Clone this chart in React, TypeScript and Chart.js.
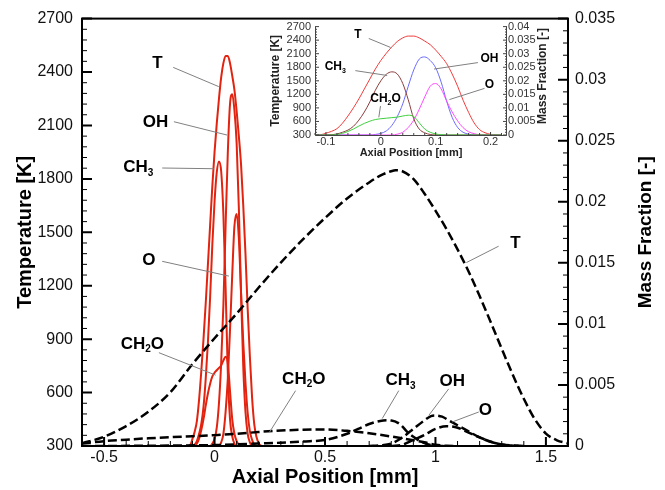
import React, { useEffect, useRef } from 'react';
import { Chart, registerables } from 'chart.js';

Chart.register(...registerables);

const FONT = '"Liberation Sans", Arial, Helvetica, sans-serif';

// ---------- flame-zone profiles (red curves, also the inset) ----------
const flameX = [
  -0.12, -0.11, -0.1, -0.09, -0.08, -0.07, -0.06, -0.05, -0.04, -0.03, -0.02, -0.01,
  0, 0.01, 0.02, 0.03, 0.04, 0.05, 0.06, 0.07, 0.08, 0.09, 0.1, 0.11, 0.12, 0.13,
  0.14, 0.15, 0.16, 0.17, 0.18, 0.19, 0.2, 0.21, 0.22,
];
const flameT = [
  300, 305, 340, 380, 440, 560, 720, 900, 1100, 1320, 1540, 1760,
  1950, 2110, 2250, 2370, 2450, 2490, 2490, 2450, 2380, 2300, 2180, 2040, 1880, 1650,
  1380, 1070, 800, 570, 420, 350, 315, 302, 300,
];
const flameCH3 = [
  0, 0, 0, 0.0001, 0.0004, 0.001, 0.0018, 0.0032, 0.0055, 0.0085, 0.0122, 0.0165,
  0.02, 0.0224, 0.0233, 0.0225, 0.019, 0.013, 0.006, 0.0022, 0.0008, 0.0002, 0, 0, 0, 0,
  0, 0, 0, 0, 0, 0, 0, 0, 0,
];
const flameOH = [
  0, 0, 0, 0, 0, 0, 0, 0, 0, 0, 0, 0.0002,
  0.0006, 0.0015, 0.0035, 0.0068, 0.0115, 0.018, 0.024, 0.028, 0.0288, 0.0275, 0.0248, 0.0195, 0.0125, 0.0065,
  0.0028, 0.001, 0.0003, 0, 0, 0, 0, 0, 0,
];
const flameO = [
  0, 0, 0, 0, 0, 0, 0, 0, 0, 0, 0, 0,
  0, 0, 0, 0.0003, 0.001, 0.0028, 0.0055, 0.0095, 0.014, 0.018, 0.019, 0.017, 0.0125, 0.0085,
  0.0052, 0.0027, 0.0012, 0.0005, 0.0001, 0, 0, 0, 0,
];
const flameCH2O = [
  0, 0, 0, 0, 0.0002, 0.0006, 0.0013, 0.0022, 0.0033, 0.0043, 0.0051, 0.0057,
  0.006, 0.0062, 0.0064, 0.0066, 0.007, 0.0073, 0.0068, 0.0045, 0.0022, 0.001, 0.0004, 0.0001, 0, 0,
  0, 0, 0, 0, 0, 0, 0, 0, 0,
];

// ---------- broad profiles (black dashed curves) ----------
const tX = [-0.6, -0.5, -0.4, -0.3, -0.2, -0.1, 0, 0.1, 0.2, 0.3, 0.4, 0.5, 0.6, 0.7, 0.75, 0.8, 0.82, 0.85, 0.9, 0.95, 1.0, 1.05, 1.1, 1.15, 1.2, 1.25, 1.3, 1.35, 1.4, 1.45, 1.5, 1.55, 1.6];
const tVal = [315, 352, 412, 492, 602, 760, 905, 1043, 1190, 1330, 1460, 1580, 1690, 1780, 1818, 1843, 1848, 1843, 1800, 1718, 1622, 1518, 1404, 1280, 1142, 996, 846, 700, 565, 450, 370, 332, 315];

const ch2oX = [-0.6, -0.5, -0.4, -0.3, -0.2, -0.1, 0, 0.1, 0.2, 0.3, 0.4, 0.5, 0.6, 0.7, 0.8, 0.9, 0.95, 1.0, 1.05, 1.1];
const ch2oVal = [0.0002, 0.0004, 0.00052, 0.00063, 0.00072, 0.0008, 0.00089, 0.001, 0.00115, 0.00127, 0.00133, 0.00135, 0.00124, 0.00104, 0.00078, 0.00047, 0.0003, 0.0001, 0.00002, 0];

const ch3X = [-0.6, -0.3, 0, 0.1, 0.2, 0.3, 0.4, 0.5, 0.6, 0.65, 0.7, 0.75, 0.78, 0.8, 0.83, 0.85, 0.87, 0.9, 0.93, 0.96, 1.0, 1.05];
const ch3Val = [0, 0.00002, 0.00008, 0.00013, 0.0002, 0.00027, 0.00037, 0.0005, 0.001, 0.0014, 0.0018, 0.00205, 0.0021, 0.00208, 0.0019, 0.0016, 0.0012, 0.00075, 0.0004, 0.00016, 0.00003, 0];

const ohX = [0.7, 0.75, 0.8, 0.85, 0.9, 0.95, 0.98, 1.0, 1.03, 1.06, 1.1, 1.15, 1.2, 1.25, 1.3, 1.35, 1.4];
const ohVal = [0, 0.00005, 0.0002, 0.0007, 0.0014, 0.0021, 0.00245, 0.0025, 0.0024, 0.0021, 0.0017, 0.0012, 0.0007, 0.00035, 0.00012, 0.00003, 0];

const oX = [0.8, 0.85, 0.9, 0.95, 1.0, 1.05, 1.1, 1.15, 1.2, 1.25, 1.3, 1.35, 1.4];
const oVal = [0, 0.0001, 0.0005, 0.0009, 0.0014, 0.00162, 0.0015, 0.0011, 0.0007, 0.00035, 0.00013, 0.00004, 0];

// ---------- tick values ----------
const xTicks = [-0.5, 0, 0.5, 1, 1.5];
const tTicks = [300, 600, 900, 1200, 1500, 1800, 2100, 2400, 2700];
const mfTicks = [0, 0.005, 0.01, 0.015, 0.02, 0.025, 0.03, 0.035];
const insetXTicks = [-0.1, 0, 0.1, 0.2];
const insetMfTicks = [0, 0.005, 0.01, 0.015, 0.02, 0.025, 0.03, 0.035, 0.04];

type Note = { text: string; x: number; y: number; from: [number, number]; to: [number, number] };

const mainNotes: Note[] = [
  { text: 'T', x: -0.259, y: 2454, from: [-0.187, 2426], to: [0.019, 2318] },
  { text: 'OH', x: -0.267, y: 2126, from: [-0.184, 2121], to: [0.057, 2046] },
  { text: 'CH_3', x: -0.345, y: 1871, from: [-0.237, 1861], to: [-0.003, 1857] },
  { text: 'O', x: -0.297, y: 1348, from: [-0.237, 1337], to: [0.065, 1254] },
  { text: 'CH_2O', x: -0.327, y: 879, from: [-0.252, 824], to: [0.005, 698] },
  { text: 'T', x: 1.362, y: 1444, from: [1.286, 1422], to: [1.14, 1330] },
  { text: 'CH_2O', x: 0.404, y: 685, from: [0.367, 611], to: [0.249, 378] },
  { text: 'CH_3', x: 0.842, y: 676, from: [0.834, 611], to: [0.759, 454] },
  { text: 'OH', x: 1.076, y: 671, from: [1.06, 621], to: [0.97, 472] },
  { text: 'O', x: 1.226, y: 509, from: [1.196, 491], to: [1.076, 435] },
];

const insetNotes: Note[] = [
  { text: 'T', x: -0.0416, y: 2544, from: [-0.022, 2437], to: [0.0178, 2238] },
  { text: 'CH_3', x: -0.083, y: 1832, from: [-0.0464, 1725], to: [0.0116, 1618] },
  { text: 'CH_2O', x: 0.0086, y: 1119, from: [-0.0006, 941], to: [-0.0037, 691] },
  { text: 'OH', x: 0.198, y: 2010, from: [0.177, 1903], to: [0.097, 1760] },
  { text: 'O', x: 0.198, y: 1439, from: [0.189, 1332], to: [0.125, 1084] },
];

const pts = (xs: number[], ys: number[]) => xs.map((x, i) => ({ x, y: ys[i] }));
const fmt = (v: number) => String(Number(v.toFixed(4)));

function drawRich(ctx: CanvasRenderingContext2D, text: string, cx: number, cy: number, size: number) {
  const parts: { t: string; sub: boolean }[] = [];
  const re = /_(\d)/g;
  let last = 0;
  let m: RegExpExecArray | null;
  while ((m = re.exec(text))) {
    if (m.index > last) parts.push({ t: text.slice(last, m.index), sub: false });
    parts.push({ t: m[1], sub: true });
    last = m.index + m[0].length;
  }
  if (last < text.length) parts.push({ t: text.slice(last), sub: false });
  const fMain = `bold ${size}px ${FONT}`;
  const fSub = `bold ${Math.round(size * 0.6)}px ${FONT}`;
  let total = 0;
  for (const p of parts) {
    ctx.font = p.sub ? fSub : fMain;
    total += ctx.measureText(p.t).width;
  }
  let x = cx - total / 2;
  const base = cy + size * 0.358;
  ctx.textAlign = 'left';
  ctx.textBaseline = 'alphabetic';
  for (const p of parts) {
    ctx.font = p.sub ? fSub : fMain;
    ctx.fillText(p.t, x, p.sub ? base + size * 0.2 : base);
    x += ctx.measureText(p.t).width;
  }
}

function minorValues(min: number, max: number, step: number, majors: number[]) {
  const out: number[] = [];
  for (let k = Math.ceil(min / step - 1e-9); k * step <= max + 1e-9; k++) {
    const v = k * step;
    if (!majors.some((mj) => Math.abs(mj - v) < step * 0.01)) out.push(v);
  }
  return out;
}

function drawTicks(chart: any, scaleId: string, side: string, values: number[], len: number, width: number) {
  const { ctx, chartArea: a } = chart;
  const s = chart.scales[scaleId];
  ctx.beginPath();
  ctx.lineWidth = width;
  for (const v of values) {
    const p = s.getPixelForValue(v);
    if (side === 'bottom') { ctx.moveTo(p, a.bottom); ctx.lineTo(p, a.bottom - len); }
    if (side === 'left') { ctx.moveTo(a.left, p); ctx.lineTo(a.left + len, p); }
    if (side === 'right') { ctx.moveTo(a.right, p); ctx.lineTo(a.right - len, p); }
  }
  ctx.stroke();
}

function drawNotes(chart: any, notes: Note[], size: number, lineColor: string) {
  const { ctx } = chart;
  const xs = chart.scales.x;
  const ys = chart.scales.yT;
  ctx.save();
  for (const n of notes) {
    ctx.strokeStyle = lineColor;
    ctx.lineWidth = 1;
    ctx.beginPath();
    ctx.moveTo(xs.getPixelForValue(n.from[0]), ys.getPixelForValue(n.from[1]));
    ctx.lineTo(xs.getPixelForValue(n.to[0]), ys.getPixelForValue(n.to[1]));
    ctx.stroke();
    ctx.fillStyle = '#000';
    drawRich(ctx, n.text, xs.getPixelForValue(n.x), ys.getPixelForValue(n.y), size);
  }
  ctx.restore();
}

function drawUpTitle(ctx: CanvasRenderingContext2D, text: string, cx: number, cy: number, font: string, color: string) {
  ctx.save();
  ctx.translate(cx, cy);
  ctx.rotate(-Math.PI / 2);
  ctx.font = font;
  ctx.fillStyle = color;
  ctx.textAlign = 'center';
  ctx.textBaseline = 'middle';
  ctx.fillText(text, 0, 0);
  ctx.restore();
}

const mainDecor = {
  id: 'mainDecor',
  afterDraw(chart: any) {
    const { ctx, chartArea: a } = chart;
    ctx.save();
    ctx.strokeStyle = '#000';
    drawTicks(chart, 'x', 'bottom', xTicks, 9, 2);
    drawTicks(chart, 'x', 'bottom', minorValues(-0.6, 1.6, 0.1, xTicks), 5, 1);
    drawTicks(chart, 'yT', 'left', tTicks, 10, 2);
    drawTicks(chart, 'yT', 'left', minorValues(300, 2700, 60, tTicks), 5, 1);
    drawTicks(chart, 'yMF', 'right', mfTicks, 10, 2);
    drawTicks(chart, 'yMF', 'right', minorValues(0, 0.035, 0.001, mfTicks), 5, 1);
    ctx.lineWidth = 2;
    ctx.strokeRect(a.left, a.top, a.right - a.left, a.bottom - a.top);
    ctx.restore();
    drawUpTitle(ctx, 'Mass Fraction [-]', 646, (a.top + a.bottom) / 2, `bold 19px ${FONT}`, '#000');
    drawNotes(chart, mainNotes, 17, '#808080');
  },
};

const insetDecor = {
  id: 'insetDecor',
  afterDraw(chart: any) {
    const { ctx, chartArea: a } = chart;
    ctx.save();
    ctx.strokeStyle = '#444';
    drawTicks(chart, 'x', 'bottom', insetXTicks, 3, 1);
    drawTicks(chart, 'x', 'bottom', minorValues(-0.12, 0.23, 0.02, insetXTicks), 2, 1);
    drawTicks(chart, 'yT', 'left', tTicks, 4, 1);
    drawTicks(chart, 'yT', 'left', minorValues(300, 2700, 60, tTicks), 2, 1);
    drawTicks(chart, 'yMF', 'right', insetMfTicks, 4, 1);
    drawTicks(chart, 'yMF', 'right', minorValues(0, 0.04, 0.001, insetMfTicks), 2, 1);
    ctx.lineWidth = 1;
    ctx.beginPath();
    ctx.moveTo(a.left + 0.5, a.top);
    ctx.lineTo(a.left + 0.5, a.bottom + 0.5);
    ctx.lineTo(a.right - 0.5, a.bottom + 0.5);
    ctx.lineTo(a.right - 0.5, a.top);
    ctx.stroke();
    ctx.restore();
    drawUpTitle(ctx, 'Mass Fraction [-]', 281, 60, `bold 12px ${FONT}`, '#222');
    drawNotes(chart, insetNotes, 12, '#808080');
  },
};

const RED = '#e2230f';

function mainConfig(): any {
  const dashed = { borderColor: '#000', borderWidth: 2.5, borderDash: [9, 4], pointRadius: 0, fill: false, cubicInterpolationMode: 'monotone' };
  const red = { borderColor: RED, borderWidth: 2, pointRadius: 0, fill: false, cubicInterpolationMode: 'monotone' };
  return {
    type: 'line',
    data: {
      datasets: [
        { ...dashed, label: 'T', data: pts(tX, tVal), yAxisID: 'yT' },
        { ...dashed, label: 'CH2O', data: pts(ch2oX, ch2oVal), yAxisID: 'yMF' },
        { ...dashed, label: 'CH3', data: pts(ch3X, ch3Val), yAxisID: 'yMF' },
        { ...dashed, label: 'OH', data: pts(ohX, ohVal), yAxisID: 'yMF' },
        { ...dashed, label: 'O', data: pts(oX, oVal), yAxisID: 'yMF' },
        { ...red, label: 'T flame', data: pts(flameX, flameT), yAxisID: 'yT' },
        { ...red, label: 'CH3 flame', data: pts(flameX, flameCH3), yAxisID: 'yMF' },
        { ...red, label: 'OH flame', data: pts(flameX, flameOH), yAxisID: 'yMF' },
        { ...red, label: 'O flame', data: pts(flameX, flameO), yAxisID: 'yMF' },
        { ...red, label: 'CH2O flame', data: pts(flameX, flameCH2O), yAxisID: 'yMF' },
      ],
    },
    options: {
      responsive: false,
      animation: false,
      layout: { padding: { top: 14, left: 0, right: 0, bottom: 0 } },
      plugins: { legend: { display: false }, tooltip: { enabled: false } },
      scales: {
        x: {
          type: 'linear', position: 'bottom', min: -0.6, max: 1.6,
          grid: { display: false, drawTicks: false }, border: { display: false },
          ticks: { font: { size: 16, family: FONT }, color: '#111', padding: 2, maxRotation: 0, autoSkip: false, callback: (v: number) => fmt(v) },
          title: { display: true, text: 'Axial Position [mm]', font: { size: 20, weight: 'bold', family: FONT }, color: '#000', padding: { top: 0, bottom: 1 } },
          afterBuildTicks: (s: any) => { s.ticks = xTicks.map((v) => ({ value: v })); },
          afterFit: (s: any) => { s.height = 44; },
        },
        yT: {
          type: 'linear', position: 'left', min: 300, max: 2700,
          grid: { display: false, drawTicks: false }, border: { display: false },
          ticks: { font: { size: 16, family: FONT }, color: '#111', padding: 9, autoSkip: false, callback: (v: number) => fmt(v) },
          title: { display: true, text: 'Temperature [K]', font: { size: 20, weight: 'bold', family: FONT }, color: '#000', padding: { top: 13, bottom: 0 } },
          afterBuildTicks: (s: any) => { s.ticks = tTicks.map((v) => ({ value: v })); },
          afterFit: (s: any) => { s.width = 82; },
        },
        yMF: {
          type: 'linear', position: 'right', min: 0, max: 0.035,
          grid: { display: false, drawTicks: false }, border: { display: false },
          ticks: { font: { size: 16, family: FONT }, color: '#111', padding: 7, autoSkip: false, callback: (v: number) => fmt(v) },
          title: { display: false },
          afterBuildTicks: (s: any) => { s.ticks = mfTicks.map((v) => ({ value: v })); },
          afterFit: (s: any) => { s.width = 97; },
        },
      },
    },
    plugins: [mainDecor],
  };
}

function insetConfig(): any {
  const line = { borderWidth: 1, pointRadius: 0, fill: false, cubicInterpolationMode: 'monotone' };
  return {
    type: 'line',
    data: {
      datasets: [
        { ...line, label: 'CH2O', data: pts(flameX, flameCH2O), yAxisID: 'yMF', borderColor: '#3fcf3f' },
        { ...line, label: 'CH3', data: pts(flameX, flameCH3), yAxisID: 'yMF', borderColor: '#8c3c3c' },
        { ...line, label: 'O', data: pts(flameX, flameO), yAxisID: 'yMF', borderColor: '#ff4cff' },
        { ...line, label: 'OH', data: pts(flameX, flameOH), yAxisID: 'yMF', borderColor: '#6a6aff' },
        { ...line, label: 'T', data: pts(flameX, flameT), yAxisID: 'yT', borderColor: '#f03c3c' },
      ],
    },
    options: {
      responsive: false,
      animation: false,
      layout: { padding: { top: 7, left: 0, right: 0, bottom: 0 } },
      plugins: { legend: { display: false }, tooltip: { enabled: false } },
      scales: {
        x: {
          type: 'linear', position: 'bottom', min: -0.12, max: 0.23,
          grid: { display: false, drawTicks: false }, border: { display: false },
          ticks: { font: { size: 11, family: FONT }, color: '#333', padding: 0, maxRotation: 0, autoSkip: false, callback: (v: number) => fmt(v) },
          title: { display: true, text: 'Axial Position [mm]', font: { size: 11, weight: 'bold', family: FONT }, color: '#222', padding: { top: 0, bottom: 6 } },
          afterBuildTicks: (s: any) => { s.ticks = insetXTicks.map((v) => ({ value: v })); },
          afterFit: (s: any) => { s.height = 31; },
        },
        yT: {
          type: 'linear', position: 'left', min: 300, max: 2700,
          grid: { display: false, drawTicks: false }, border: { display: false },
          ticks: { font: { size: 11, family: FONT }, color: '#333', padding: 4, autoSkip: false, callback: (v: number) => fmt(v) },
          title: { display: true, text: 'Temperature [K]', font: { size: 12, weight: 'bold', family: FONT }, color: '#222', padding: { top: 6, bottom: 0 } },
          afterBuildTicks: (s: any) => { s.ticks = tTicks.map((v) => ({ value: v })); },
          afterFit: (s: any) => { s.width = 53; },
        },
        yMF: {
          type: 'linear', position: 'right', min: 0, max: 0.04,
          grid: { display: false, drawTicks: false }, border: { display: false },
          ticks: { font: { size: 11, family: FONT }, color: '#333', padding: 1, autoSkip: false, callback: (v: number) => fmt(v) },
          title: { display: false },
          afterBuildTicks: (s: any) => { s.ticks = insetMfTicks.map((v) => ({ value: v })); },
          afterFit: (s: any) => { s.width = 55; },
        },
      },
    },
    plugins: [insetDecor],
  };
}

export default function App() {
  const mainRef = useRef<HTMLCanvasElement>(null);
  const insetRef = useRef<HTMLCanvasElement>(null);
  useEffect(() => {
    const main = new Chart(mainRef.current as HTMLCanvasElement, mainConfig());
    const inset = new Chart(insetRef.current as HTMLCanvasElement, insetConfig());
    return () => {
      main.destroy();
      inset.destroy();
    };
  }, []);
  return (
    <div style={{ position: 'fixed', left: 0, top: 0, width: 665, height: 490, background: '#fff' }}>
      <canvas ref={mainRef} width={665} height={490} style={{ position: 'absolute', left: 0, top: 0 }} />
      <canvas ref={insetRef} width={300} height={150} style={{ position: 'absolute', left: 262, top: 16 }} />
    </div>
  );
}
